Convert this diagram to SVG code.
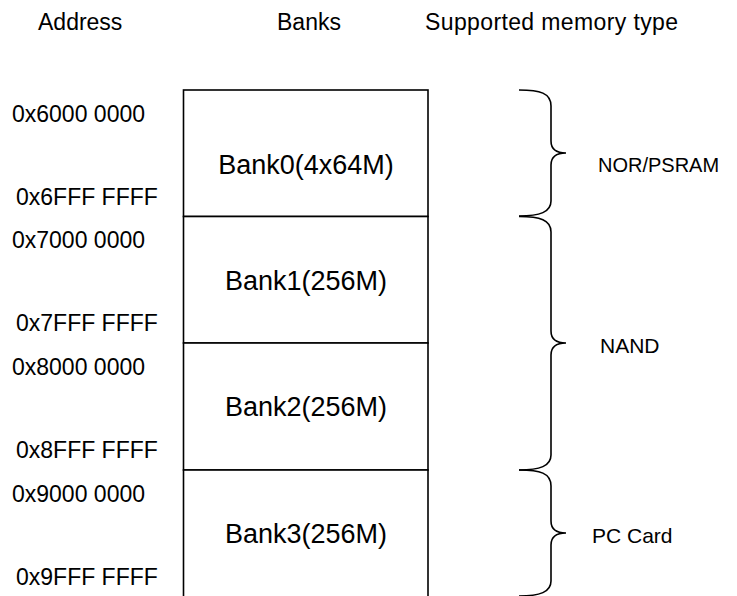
<svg xmlns="http://www.w3.org/2000/svg" width="737" height="596" viewBox="0 0 737 596">
<style>
text{font-family:"Liberation Sans",Arial,sans-serif;fill:#000}
.hdr{font-size:23px}
.addr{font-size:23px}
.bank{font-size:27px;text-anchor:middle}
.type{font-size:21px}
.box{fill:#fff;stroke:#000;stroke-width:1.6}
.brace{fill:none;stroke:#000;stroke-width:1.6}
</style>
<rect width="737" height="596" fill="#fff"/>
<g id="headers">
<text class="hdr" x="38" y="30">Address</text>
<text class="hdr" x="277" y="30">Banks</text>
<text class="hdr" x="425" y="30" textLength="253">Supported memory type</text>
</g>
<g id="bank0">
<rect class="box" x="183.5" y="90" width="244.5" height="126.5"/>
<text class="bank" x="306" y="174">Bank0(4x64M)</text>
<text class="addr" x="12" y="122">0x6000 0000</text>
<text class="addr" x="16" y="205">0x6FFF FFFF</text>
</g>
<g id="bank1">
<rect class="box" x="183.5" y="216.5" width="244.5" height="126.5"/>
<text class="bank" x="306" y="290">Bank1(256M)</text>
<text class="addr" x="12" y="248">0x7000 0000</text>
<text class="addr" x="16" y="331">0x7FFF FFFF</text>
</g>
<g id="bank2">
<rect class="box" x="183.5" y="343" width="244.5" height="127"/>
<text class="bank" x="306" y="416">Bank2(256M)</text>
<text class="addr" x="12" y="375">0x8000 0000</text>
<text class="addr" x="16" y="458">0x8FFF FFFF</text>
</g>
<g id="bank3">
<rect class="box" x="183.5" y="470" width="244.5" height="140"/>
<text class="bank" x="306" y="543">Bank3(256M)</text>
<text class="addr" x="12" y="502">0x9000 0000</text>
<text class="addr" x="16" y="585">0x9FFF FFFF</text>
</g>
<g id="connectors">
<path class="brace" d="M519,90 C540,90 551,93 551,106 L551,141 C551,149 556,153 566,153 C556,153 551,157 551,165 L551,201 C551,212 540,216 519,216"/>
<path class="brace" d="M519,216.5 C540,216.5 551,220 551,232 L551,331 C551,339 556,343 566,343 C556,343 551,347 551,355 L551,455 C551,466 540,470 519,470"/>
<path class="brace" d="M519,470 C540,470 551,473 551,486 L551,521 C551,529 556,533 566,533 C556,533 551,537 551,545 L551,581 C551,592 540,596 519,596"/>
</g>
<g id="types">
<text class="type" x="598" y="172" style="font-size:20px">NOR/PSRAM</text>
<text class="type" x="600" y="353">NAND</text>
<text class="type" x="592" y="543">PC Card</text>
</g>
</svg>
